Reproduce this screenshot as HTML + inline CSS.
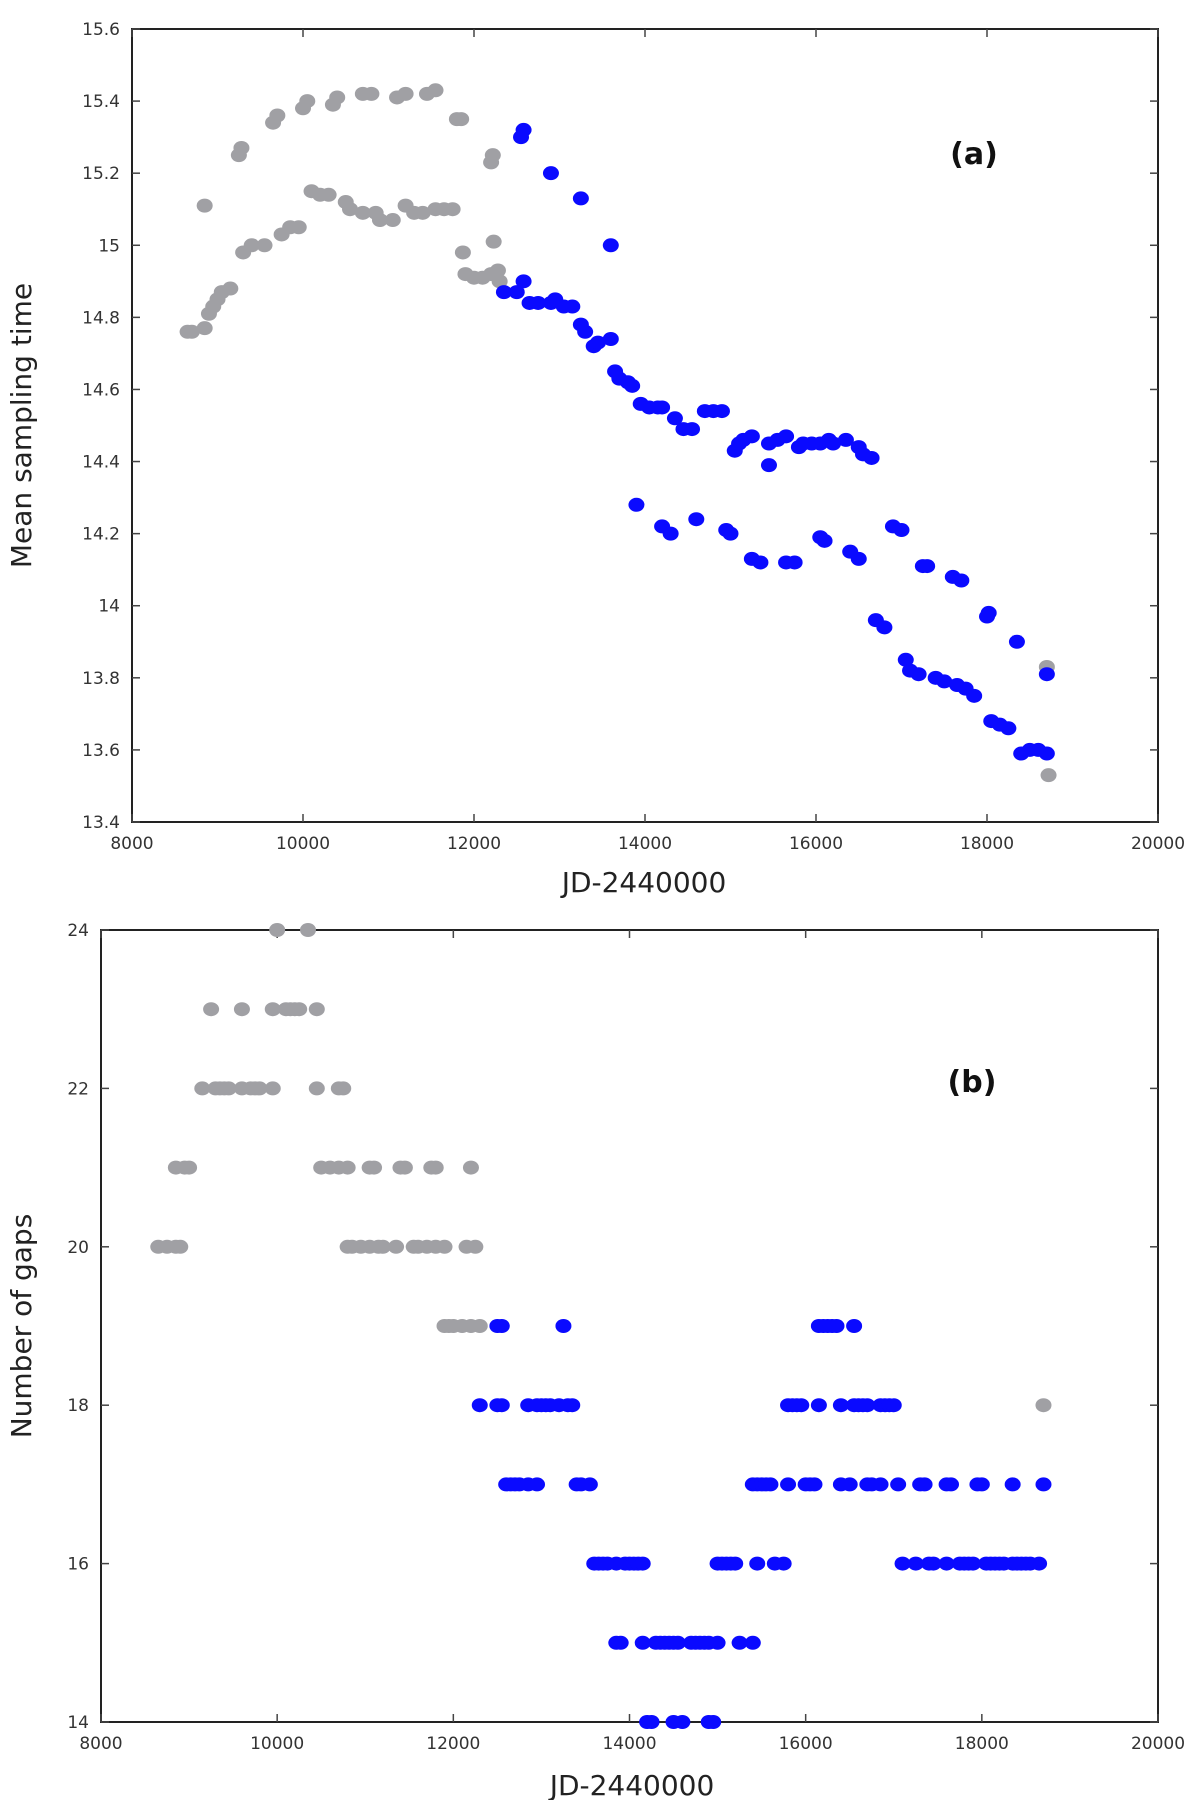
<!DOCTYPE html>
<html><head><meta charset="utf-8"><style>
html,body{margin:0;padding:0;background:#fff}
svg{display:block;font-family:"DejaVu Sans","Liberation Sans",sans-serif}
</style></head><body>
<svg id="chart" width="1200" height="1800" viewBox="0 0 1200 1800"></svg>
<script>
// Panel (a) data
const aGrayX=[8850,9250,9280,9650,9700,10000,10050,10350,10400,10700,10800,11100,11200,11450,11550,11800,11850,12200,12220,
8650,8700,8850,8900,8950,9000,9050,9150,9300,9400,9550,9750,9850,9950,10100,10200,10300,10500,10550,10700,10850,10900,11050,11200,11300,11400,11550,11650,11750,11870,11900,12000,12100,12200,12230,12280,12300,18700,18720];
const aGrayY=[15.11,15.25,15.27,15.34,15.36,15.38,15.40,15.39,15.41,15.42,15.42,15.41,15.42,15.42,15.43,15.35,15.35,15.23,15.25,
14.76,14.76,14.77,14.81,14.83,14.85,14.87,14.88,14.98,15.0,15.0,15.03,15.05,15.05,15.15,15.14,15.14,15.12,15.1,15.09,15.09,15.07,15.07,15.11,15.09,15.09,15.1,15.1,15.1,14.98,14.92,14.91,14.91,14.92,15.01,14.93,14.9,13.83,13.53];
const aBlueX=[12550,12580,12900,13250,13600,
13900,14200,14300,14600,14950,15000,15250,15350,15650,15750,16050,16100,16400,16500,16900,17000,17250,17300,17600,17700,18000,18020,18350,18700,
12350,12500,12580,12650,12750,12900,12950,13050,13150,13250,13300,13400,13450,13600,13650,13700,13800,13850,13950,14050,14150,14200,14350,14450,14550,14700,14800,14900,15050,15100,15150,15250,15450,15450,15550,15650,15800,15850,15950,16050,16150,16200,16350,16500,16550,16650,16700,16800,17050,17100,17200,17400,17500,17650,17750,17850,18050,18150,18250,18400,18500,18600,18700];
const aBlueY=[15.3,15.32,15.2,15.13,15.0,
14.28,14.22,14.2,14.24,14.21,14.2,14.13,14.12,14.12,14.12,14.19,14.18,14.15,14.13,14.22,14.21,14.11,14.11,14.08,14.07,13.97,13.98,13.9,13.81,
14.87,14.87,14.9,14.84,14.84,14.84,14.85,14.83,14.83,14.78,14.76,14.72,14.73,14.74,14.65,14.63,14.62,14.61,14.56,14.55,14.55,14.55,14.52,14.49,14.49,14.54,14.54,14.54,14.43,14.45,14.46,14.47,14.39,14.45,14.46,14.47,14.44,14.45,14.45,14.45,14.46,14.45,14.46,14.44,14.42,14.41,13.96,13.94,13.85,13.82,13.81,13.8,13.79,13.78,13.77,13.75,13.68,13.67,13.66,13.59,13.6,13.6,13.59];
const aYTicks=[13.4,13.6,13.8,14,14.2,14.4,14.6,14.8,15,15.2,15.4,15.6];
const xTicks=[8000,10000,12000,14000,16000,18000,20000];
// Panel (b) data
const bGrayX=[10000,10350, 9250,9600,9950,10100,10150,10200,10250,10450, 9150,9300,9350,9400,9450,9600,9700,9750,9800,9950,10450,10700,10750,
8850,8950,9000,10500,10600,10700,10800,11050,11100,11400,11450,11750,11800,12200,
8650,8750,8850,8900,10800,10850,10950,11050,11150,11200,11350,11550,11600,11700,11800,11900,12150,12250,
11900,11950,12000,12100,12200,12300, 18700];
const bGrayY=[24,24, 23,23,23,23,23,23,23,23, 22,22,22,22,22,22,22,22,22,22,22,22,22,
21,21,21,21,21,21,21,21,21,21,21,21,21,21,
20,20,20,20,20,20,20,20,20,20,20,20,20,20,20,20,20,20,
19,19,19,19,19,19, 18];
const bBlueX=[12500,12550,13250,16150,16200,16250,16300,16350,16550,
12300,12500,12550,12850,12950,13000,13050,13100,13200,13300,13350,15800,15850,15900,15950,16150,16400,16550,16600,16650,16700,16850,16900,16950,17000,
12600,12650,12700,12750,12850,12950,13400,13450,13550,15400,15450,15500,15550,15600,15800,16000,16050,16100,16400,16500,16700,16750,16850,17050,17300,17350,17600,17650,17950,18000,18350,18700,
13600,13650,13700,13750,13850,13950,14000,14050,14100,14150,15000,15050,15100,15150,15200,15450,15650,15750,17100,17250,17400,17450,17600,17750,17800,17850,17900,18050,18100,18150,18200,18250,18350,18400,18450,18500,18550,18650,
13850,13900,14150,14300,14350,14400,14450,14500,14550,14700,14750,14800,14850,14900,15000,15250,15400,
14200,14250,14500,14600,14900,14950];
const bBlueY=[19,19,19,19,19,19,19,19,19,
18,18,18,18,18,18,18,18,18,18,18,18,18,18,18,18,18,18,18,18,18,18,18,18,18,
17,17,17,17,17,17,17,17,17,17,17,17,17,17,17,17,17,17,17,17,17,17,17,17,17,17,17,17,17,17,17,17,
16,16,16,16,16,16,16,16,16,16,16,16,16,16,16,16,16,16,16,16,16,16,16,16,16,16,16,16,16,16,16,16,16,16,16,16,16,16,
15,15,15,15,15,15,15,15,15,15,15,15,15,15,15,15,15,
14,14,14,14,14,14];
const bYTicks=[14,16,18,20,22,24];

const NS='http://www.w3.org/2000/svg';
const svg=document.getElementById('chart');
function mk(tag,attrs,parent){const e=document.createElementNS(NS,tag);for(const k in attrs)e.setAttribute(k,attrs[k]);(parent||svg).appendChild(e);return e;}

function panel(cfg){
  const {L,R,T,B,xmin,xmax,ymin,ymax,yTicks,tag,label,ytitle,xtitleX,xtitleY,labelX,labelY,fmt}=cfg;
  const g=mk('g',{});
  
  
  const sx=v=>L+(v-xmin)/(xmax-xmin)*(R-L);
  const sy=v=>B-(v-ymin)/(ymax-ymin)*(B-T);
  const frame=mk('rect',{x:L,y:T,width:R-L,height:B-T,fill:'none',stroke:'#222','stroke-width':2},g);
  
  
  xTicks.forEach(v=>{
    const x=sx(v);
    mk('line',{x1:x,y1:B,x2:x,y2:B-8,stroke:'#444','stroke-width':1.5},g);
    mk('line',{x1:x,y1:T,x2:x,y2:T+8,stroke:'#444','stroke-width':1.5},g);
    const t=mk('text',{x:x,y:B+27,'text-anchor':'middle','font-size':17,fill:'#333'},g);
    t.textContent=v;
    
    
  });
  yTicks.forEach(v=>{
    const y=sy(v);
    mk('line',{x1:L,y1:y,x2:L+8,y2:y,stroke:'#444','stroke-width':1.5},g);
    mk('line',{x1:R,y1:y,x2:R-8,y2:y,stroke:'#444','stroke-width':1.5},g);
    const t=mk('text',{x:L-12,y:y+6,'text-anchor':'end','font-size':17,fill:'#333'},g);
    t.textContent=fmt(v);
    
    
  });
  const xt=mk('text',{x:xtitleX,y:xtitleY,'text-anchor':'middle','font-size':28,fill:'#222'},g);
  xt.textContent='JD-2440000';
  
  
  const yt=mk('text',{x:0,y:0,'text-anchor':'middle','font-size':28,fill:'#222',transform:`translate(31,${(T+B)/2}) rotate(-90)`},g);
  yt.textContent=ytitle;
  
  
  const pl=mk('text',{x:labelX,y:labelY,'text-anchor':'middle','font-size':30,'font-weight':'bold',fill:'#111'},g);
  pl.textContent=label;
  
  
  return {g,sx,sy};
}
function dots(p,xs,ys,color,name){
  xs.forEach((x,i)=>{
    const c=mk('ellipse',{cx:p.sx(x),cy:p.sy(ys[i]),rx:8,ry:7,fill:color},p.g);
    
    
  });
}
const pa=panel({L:132,R:1158,T:29,B:822,xmin:8000,xmax:20000,ymin:13.4,ymax:15.6,yTicks:aYTicks,tag:'a',label:'(a)',ytitle:'Mean sampling time',xtitleX:644,xtitleY:892,labelX:974,labelY:164,fmt:v=>(Math.round(v*10)/10).toString()});
dots(pa,aGrayX,aGrayY,'#a0a0a4','gray-point');
dots(pa,aBlueX,aBlueY,'#0a0aff','blue-point');
const pb=panel({L:101,R:1158,T:930,B:1722,xmin:8000,xmax:20000,ymin:14,ymax:24,yTicks:bYTicks,tag:'b',label:'(b)',ytitle:'Number of gaps',xtitleX:632,xtitleY:1795,labelX:972,labelY:1092,fmt:v=>String(v)});
dots(pb,bGrayX,bGrayY,'#a0a0a4','gray-point');
dots(pb,bBlueX,bBlueY,'#0a0aff','blue-point');
</script>
</body></html>
